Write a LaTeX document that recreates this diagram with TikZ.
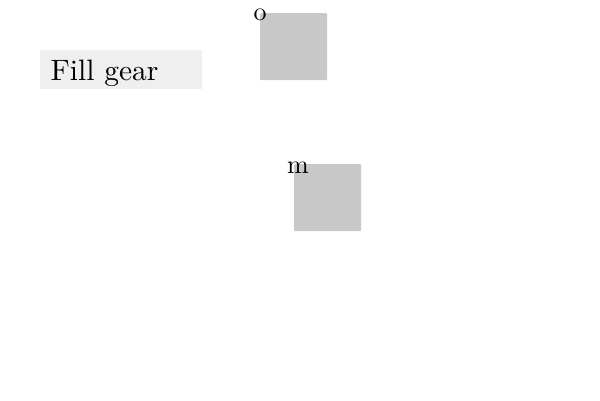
\documentclass[tikz,border=0pt]{standalone}
\begin{document}
\begin{tikzpicture}[x=1pt,y=-1pt,
  square/.style={fill=sqgray,draw=none,rounded corners=1pt,minimum width=67pt,minimum height=67pt,inner sep=0pt,anchor=north west},
  lbl/.style={inner sep=0pt,scale=2.6,anchor=base},
  titlebox/.style={fill=boxgray,draw=none,minimum width=162pt,minimum height=39pt,inner sep=0pt,anchor=north west}]
\definecolor{sqgray}{HTML}{C8C8C8}
\definecolor{boxgray}{HTML}{EFEFEF}
\useasboundingbox (0,0) rectangle (600,400);
\node[titlebox] (box) at (40,50) {};
\node[inner sep=0pt,scale=2.95,anchor=base west] (title) at (50,80) {Fill gear};
\node[square] (sqo) at (260,13) {};
\node[square] (sqm) at (294,164) {};
\node[lbl] (lo) at (260,20) {o};
\node[lbl] (lm) at (298,173) {m};
\end{tikzpicture}
\end{document}
